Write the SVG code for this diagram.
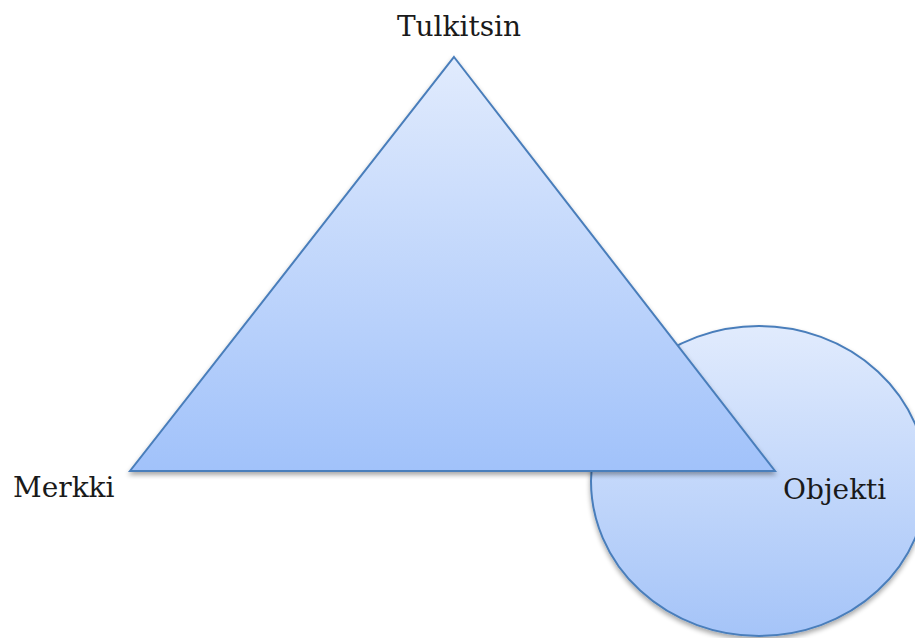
<svg xmlns="http://www.w3.org/2000/svg" width="915" height="638" viewBox="0 0 915 638">
<style>
.shape{stroke:#4a7ebb;stroke-width:2;stroke-linejoin:miter;filter:url(#sh)}
.lbl{font-family:"DejaVu Serif","Liberation Serif",serif;font-size:28px;fill:#1a1a1a}
</style>
<defs>
<linearGradient id="gT" x1="0" y1="0" x2="0" y2="1">
<stop offset="0" stop-color="#e1ebfd"/>
<stop offset="1" stop-color="#a1c2fa"/>
</linearGradient>
<linearGradient id="gC" x1="0" y1="0" x2="0" y2="1">
<stop offset="0" stop-color="#e1ebfd"/>
<stop offset="1" stop-color="#a5c4f8"/>
</linearGradient>
<filter id="sh" x="-10%" y="-10%" width="120%" height="125%">
<feGaussianBlur in="SourceAlpha" stdDeviation="2.5"/>
<feOffset dx="0" dy="3" result="b"/>
<feComponentTransfer><feFuncA type="linear" slope="0.35"/></feComponentTransfer>
<feMerge><feMergeNode/><feMergeNode in="SourceGraphic"/></feMerge>
</filter>
</defs>
<rect width="915" height="638" fill="#ffffff"/>
<g id="objekti-shape">
<ellipse class="shape" cx="759" cy="481" rx="168" ry="155" fill="url(#gC)"/>
</g>
<g id="triangle">
<polygon class="shape" points="454,57 775,471 130,471" fill="url(#gT)"/>
</g>
<g id="connectors"></g>
<g id="tulkitsin"><text class="lbl" x="459" y="36" text-anchor="middle">Tulkitsin</text></g>
<g id="merkki"><text class="lbl" x="13" y="497">Merkki</text></g>
<g id="objekti"><text class="lbl" x="783" y="499">Objekti</text></g>
</svg>
